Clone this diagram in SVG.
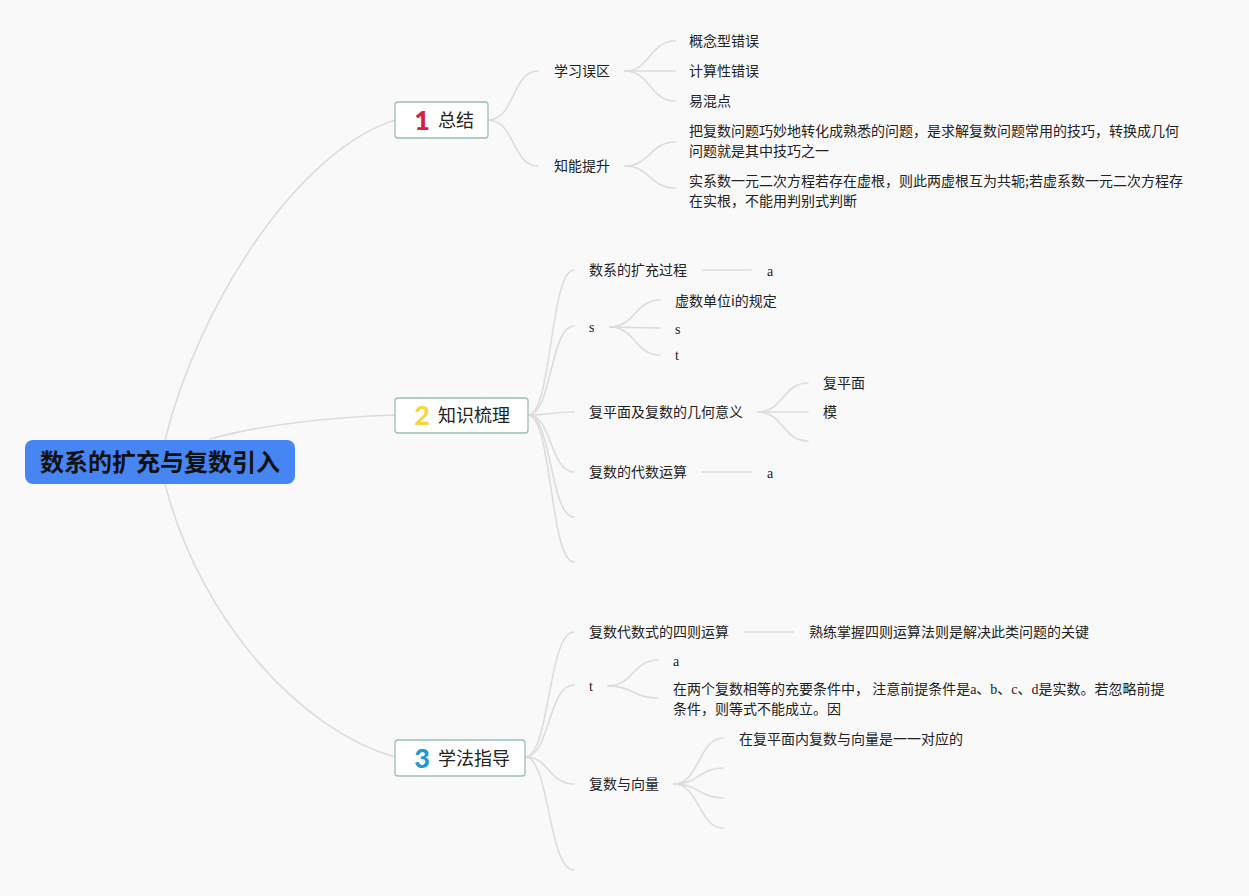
<svg xmlns="http://www.w3.org/2000/svg" width="1249" height="896" viewBox="0 0 1249 896">
<style>
.bg{fill:#f9f9f9}
.c{fill:none;stroke:#dcdcdc;stroke-width:1.6;stroke-linecap:round}
.t{font-family:"Noto Sans CJK SC","Noto Sans",sans-serif;font-size:14px;fill:#222}
.l{font-family:"Liberation Serif",serif;font-size:14px;fill:#222}
.box{fill:#fff;stroke:#98c0b6;stroke-width:1.3}
.bt{font-family:"Noto Sans CJK SC","Noto Sans",sans-serif;font-size:18px;fill:#222}
.num{font-family:"Lato","Liberation Sans",sans-serif;font-weight:900;font-size:27px}
</style>
<rect class="bg" x="0" y="0" width="1249" height="896"/>
<g id="connectors">
<path class="c" d="M165,440 C200,300 300,150 395,120"/>
<path class="c" d="M210,439 C260,425 330,417 395,415"/>
<path class="c" d="M165,484 C200,620 300,730 395,757"/>
<path class="c" d="M488,120 C515,120 512,71 538,71"/>
<path class="c" d="M488,120 C515,120 512,166 538,166"/>
<path class="c" d="M625,71 C650,71 650,41 675,41"/>
<path class="c" d="M625,71 L675,71"/>
<path class="c" d="M625,71 C650,71 650,101 675,101"/>
<path class="c" d="M625,166 C650,166 650,142 675,142"/>
<path class="c" d="M625,166 C650,166 650,188 675,188"/>
<path class="c" d="M528,415 C552,415 550,270 574,270"/>
<path class="c" d="M528,415 C552,415 550,326 574,326"/>
<path class="c" d="M528,415 C552,415 550,412 574,412"/>
<path class="c" d="M528,415 C552,415 550,472 574,472"/>
<path class="c" d="M528,415 C552,415 550,517 574,517"/>
<path class="c" d="M528,415 C552,415 550,562 574,562"/>
<path class="c" d="M702,270 L751,270"/>
<path class="c" d="M610,327 C635,327 635,300 660,300"/>
<path class="c" d="M610,327 L660,328"/>
<path class="c" d="M610,327 C635,327 635,355 660,355"/>
<path class="c" d="M758,412 C783,412 783,383 808,383"/>
<path class="c" d="M758,412 L808,412"/>
<path class="c" d="M758,412 C783,412 783,441 808,441"/>
<path class="c" d="M702,472 L751,472"/>
<path class="c" d="M525,757 C550,757 548,632 574,632"/>
<path class="c" d="M525,757 C550,757 548,685 574,685"/>
<path class="c" d="M525,757 C550,757 548,784 574,784"/>
<path class="c" d="M525,757 C550,757 548,870 574,870"/>
<path class="c" d="M745,632 L793,632"/>
<path class="c" d="M608,686 C633,686 633,660 658,660"/>
<path class="c" d="M608,686 C633,686 633,698 658,698"/>
<path class="c" d="M674,784 C699,784 699,738 723,738"/>
<path class="c" d="M674,784 C699,784 699,768 723,768"/>
<path class="c" d="M674,784 C699,784 699,798 723,798"/>
<path class="c" d="M674,784 C699,784 699,828 723,828"/>
</g>
<g id="root">
<rect x="25" y="440" width="270" height="44" rx="8" fill="#4685f2"/>
<text x="160" y="471" text-anchor="middle" font-family="'Noto Sans CJK SC',sans-serif" font-weight="bold" font-size="24" fill="#111">数系的扩充与复数引入</text>
</g>
<g id="n1">
<rect class="box" x="395" y="102" width="93" height="36" rx="3"/>
<text class="num" x="422" y="130" text-anchor="middle" fill="#d8203a">1</text>
<text class="bt" x="438" y="127">总结</text>
</g>
<g id="n2">
<rect class="box" x="395" y="398" width="133" height="35" rx="3"/>
<text class="num" x="422" y="425" text-anchor="middle" fill="#f3d54a">2</text>
<text class="bt" x="438" y="422">知识梳理</text>
</g>
<g id="n3">
<rect class="box" x="395" y="740" width="130" height="36" rx="3"/>
<text class="num" x="422" y="768" text-anchor="middle" fill="#1f98d8">3</text>
<text class="bt" x="438" y="765">学法指导</text>
</g>
<g id="n1a"><text class="t" x="554" y="76">学习误区</text></g>
<g id="n1a1"><text class="t" x="689" y="46">概念型错误</text></g>
<g id="n1a2"><text class="t" x="689" y="76">计算性错误</text></g>
<g id="n1a3"><text class="t" x="689" y="106">易混点</text></g>
<g id="n1b"><text class="t" x="554" y="171">知能提升</text></g>
<g id="n1b1"><text class="t" x="689" y="136">把复数问题巧妙地转化成熟悉的问题，是求解复数问题常用的技巧，转换成几何</text><text class="t" x="689" y="156">问题就是其中技巧之一</text></g>
<g id="n1b2"><text class="t" x="689" y="186">实系数一元二次方程若存在虚根，则此两虚根互为共轭;若虚系数一元二次方程存</text><text class="t" x="689" y="206">在实根，不能用判别式判断</text></g>
<g id="n2a"><text class="t" x="589" y="275">数系的扩充过程</text></g>
<g id="n2a1"><text class="l" x="767" y="276">a</text></g>
<g id="n2b"><text class="l" x="589" y="332">s</text></g>
<g id="n2b1"><text class="t" x="675" y="306">虚数单位i的规定</text></g>
<g id="n2b2"><text class="l" x="675" y="334">s</text></g>
<g id="n2b3"><text class="l" x="675" y="360">t</text></g>
<g id="n2c"><text class="t" x="589" y="417">复平面及复数的几何意义</text></g>
<g id="n2c1"><text class="t" x="823" y="388">复平面</text></g>
<g id="n2c2"><text class="t" x="823" y="417">模</text></g>
<g id="n2d"><text class="t" x="589" y="477">复数的代数运算</text></g>
<g id="n2d1"><text class="l" x="767" y="478">a</text></g>
<g id="n3a"><text class="t" x="589" y="637">复数代数式的四则运算</text></g>
<g id="n3a1"><text class="t" x="809" y="637">熟练掌握四则运算法则是解决此类问题的关键</text></g>
<g id="n3b"><text class="l" x="589" y="691">t</text></g>
<g id="n3b1"><text class="l" x="673" y="666">a</text></g>
<g id="n3b2"><text class="t" x="673" y="694">在两个复数相等的充要条件中， 注意前提条件是<tspan font-family="Liberation Serif,serif">a</tspan>、<tspan font-family="Liberation Serif,serif">b</tspan>、<tspan font-family="Liberation Serif,serif">c</tspan>、<tspan font-family="Liberation Serif,serif">d</tspan>是实数。若忽略前提</text><text class="t" x="673" y="714">条件，则等式不能成立。因</text></g>
<g id="n3c"><text class="t" x="589" y="789">复数与向量</text></g>
<g id="n3c1"><text class="t" x="739" y="744">在复平面内复数与向量是一一对应的</text></g>
</svg>
